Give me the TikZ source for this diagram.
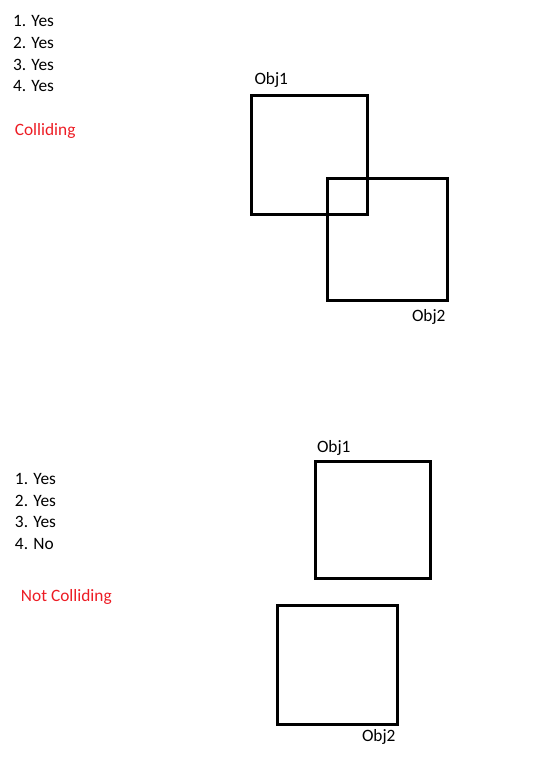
\documentclass[tikz,border=0pt]{standalone}
\usepackage{fontspec}
\setmainfont{Carlito}
\definecolor{hitred}{RGB}{237,28,36}
\tikzset{every picture/.style={line width=0.75pt}}
\tikzset{
  objbox/.style={line width=2.25pt},
  txt/.style={anchor=base west,inner sep=0pt,font=\fontsize{13}{15}\selectfont},
  verdict/.style={txt,text=hitred}
}

\begin{document}
\begin{tikzpicture}[x=0.75pt,y=0.75pt,yscale=-1,xscale=1]
\useasboundingbox (0,0) rectangle (534,761);

%Shape: Square [id:obj1top]
\draw [objbox] (251.5,95.5) rectangle (367.5,214) ;
%Shape: Square [id:obj2top]
\draw [objbox] (327.5,178.5) rectangle (447.5,300.5) ;

% Text Node
\node [txt] (a1) at (12.5,26.7) {1. Yes};
% Text Node
\node [txt] (a2) at (12.5,48.4) {2. Yes};
% Text Node
\node [txt] (a3) at (12.5,70.1) {3. Yes};
% Text Node
\node [txt] (a4) at (12.5,91.8) {4. Yes};
% Text Node
\node [verdict] (hit) at (14.3,135) {Colliding};
% Text Node
\node [txt] (t1) at (254,84.3) {Obj1};
% Text Node
\node [txt] (t2) at (411.5,321) {Obj2};

%Shape: Square [id:obj1bot]
\draw [objbox] (315.5,461) rectangle (430.5,578) ;
%Shape: Square [id:obj2bot]
\draw [objbox] (277,605.5) rectangle (397.5,724.5) ;

% Text Node
\node [txt] (b1) at (14.5,484) {1. Yes};
% Text Node
\node [txt] (b2) at (14.5,506) {2. Yes};
% Text Node
\node [txt] (b3) at (14.5,527.8) {3. Yes};
% Text Node
\node [txt] (b4) at (14.5,549.5) {4. No};
% Text Node
\node [verdict] (miss) at (20.5,601.7) {Not Colliding};
% Text Node
\node [txt] (u1) at (316.5,452.7) {Obj1};
% Text Node
\node [txt] (u2) at (361.5,741.7) {Obj2};

\end{tikzpicture}
\end{document}
